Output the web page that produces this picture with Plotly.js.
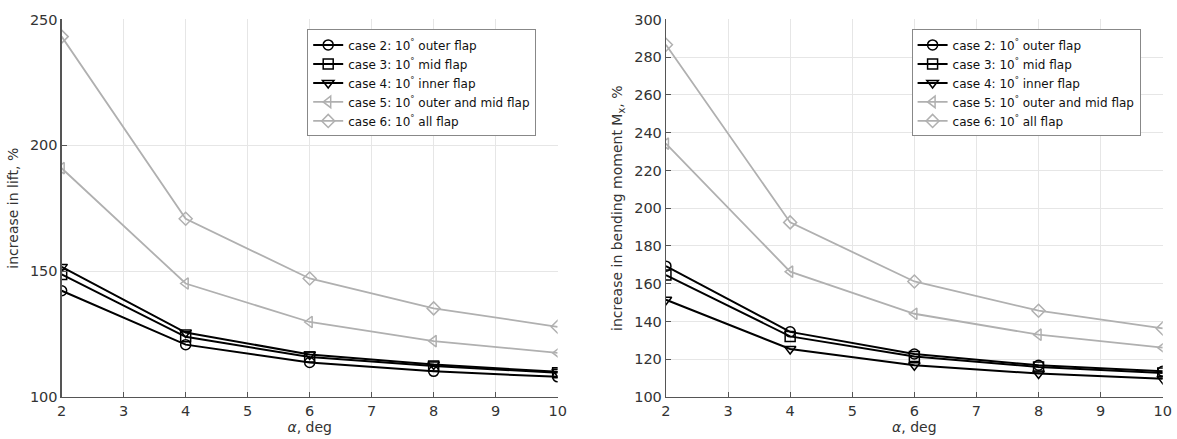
<!DOCTYPE html>
<html><head><meta charset="utf-8">
<script src="https://cdn.plot.ly/plotly-3.0.1.min.js"></script>
<style>html,body{margin:0;padding:0;background:#fff}#c{width:1177px;height:439px}</style>
</head><body><div id="c"></div>
<script>
const alpha = [2, 4, 6, 8, 10];
const names = ['case 2: 10<sup>°</sup> outer flap','case 3: 10<sup>°</sup> mid flap','case 4: 10<sup>°</sup> inner flap','case 5: 10<sup>°</sup> outer and mid flap','case 6: 10<sup>°</sup> all flap'];
const lift2 = [142.2, 120.8, 113.7, 110.2, 108.0];
const lift3 = [148.7, 123.9, 115.9, 112.3, 109.6];
const lift4 = [151.7, 125.6, 116.9, 112.9, 110.0];
const lift5 = [190.9, 145.1, 129.8, 122.2, 117.5];
const lift6 = [243.2, 170.8, 147.1, 135.2, 127.9];
const mom2 = [169.3, 134.5, 122.8, 116.8, 113.6];
const mom3 = [164.6, 132.1, 121.4, 115.9, 112.7];
const mom4 = [151.5, 125.4, 116.8, 112.4, 109.6];
const mom5 = [234.2, 166.4, 144.1, 133.0, 126.1];
const mom6 = [286.6, 192.5, 161.2, 145.7, 136.3];

const symbols = ['circle-open','square-open','triangle-down-open','triangle-left-open','diamond-open'];
const colors = ['#000000','#000000','#000000','#b0b0b0','#b0b0b0'];
const liftSets = [lift2, lift3, lift4, lift5, lift6];
const momSets = [mom2, mom3, mom4, mom5, mom6];
const traces = [];
liftSets.forEach((ys, i) => traces.push({
  x: alpha, y: ys, name: names[i], type: 'scatter', mode: 'lines+markers',
  xaxis: 'x', yaxis: 'y', legend: 'legend',
  line: {color: colors[i], width: i < 3 ? 2 : 1.8},
  marker: {symbol: symbols[i], size: 10, color: colors[i], line: {width: 1.5, color: colors[i]}}
}));
momSets.forEach((ys, i) => traces.push({
  x: alpha, y: ys, name: names[i], type: 'scatter', mode: 'lines+markers',
  xaxis: 'x2', yaxis: 'y2', legend: 'legend2',
  line: {color: colors[i], width: i < 3 ? 2 : 1.8},
  marker: {symbol: symbols[i], size: 10, color: colors[i], line: {width: 1.5, color: colors[i]}}
}));
const fam = 'DejaVu Sans, Verdana, sans-serif';
const font = {family: fam, size: 14, color: '#262626'};
const ax = {
  showgrid: true, gridcolor: '#e6e6e6', gridwidth: 1, zeroline: false,
  showline: true, linecolor: '#555555', linewidth: 1.2,
  ticks: 'inside', ticklen: 5, tickcolor: '#555555', mirror: false,
  tickfont: {family: fam, size: 14.5, color: '#333333'}
};
const legendBase = {
  xanchor: 'left', yanchor: 'top', bgcolor: '#ffffff', bordercolor: '#888888', borderwidth: 1,
  font: {family: fam, size: 12, color: '#111111'}, itemwidth: 30, tracegroupgap: 0
};
const tf = {family: fam, size: 14, color: '#333333'};
const layout = {
  width: 1177, height: 439, margin: {l: 0, r: 0, t: 0, b: 0},
  paper_bgcolor: '#ffffff', plot_bgcolor: '#ffffff', font: font,
  xaxis: Object.assign({}, ax, {domain: [0.0524, 0.4738], range: [2, 10], dtick: 1, anchor: 'y',
    title: {text: '<i>α</i>, deg', font: tf, standoff: 4}}),
  yaxis: Object.assign({}, ax, {domain: [0.0957, 0.9556], range: [100, 250], dtick: 50, anchor: 'x',
    title: {text: 'increase in lift, %', font: tf, standoff: 8}}),
  xaxis2: Object.assign({}, ax, {domain: [0.5658, 0.9879], range: [2, 10], dtick: 1, anchor: 'y2',
    title: {text: '<i>α</i>, deg', font: tf, standoff: 4}}),
  yaxis2: Object.assign({}, ax, {domain: [0.0957, 0.9556], range: [100, 300], dtick: 20, anchor: 'x2',
    title: {text: 'increase in bending moment M<sub>x</sub>, %', font: tf, standoff: 8}}),
  legend: Object.assign({}, legendBase, {x: 0.261, y: 0.933}),
  legend2: Object.assign({}, legendBase, {x: 0.7745, y: 0.933}),
  showlegend: true
};
Plotly.newPlot('c', traces, layout, {displayModeBar: false, staticPlot: true});
</script></body></html>
